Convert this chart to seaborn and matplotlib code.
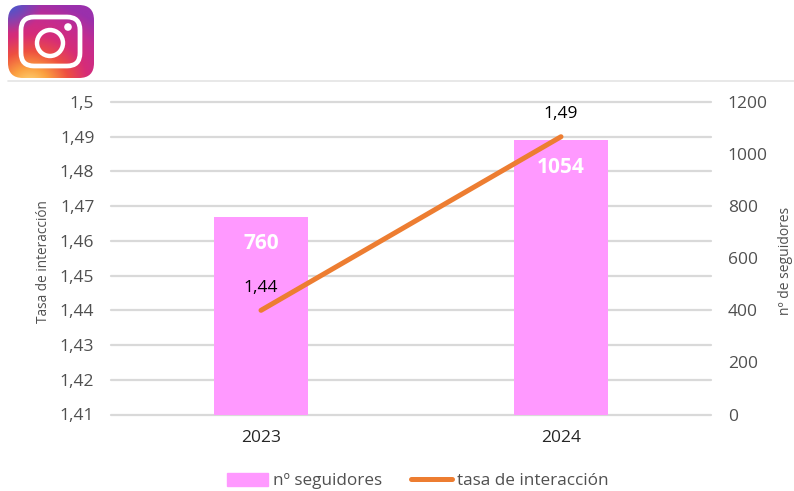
import numpy as np
import pandas as pd
import seaborn as sns
import matplotlib.pyplot as plt
from matplotlib.colors import LinearSegmentedColormap
from matplotlib.lines import Line2D
from matplotlib.patches import Circle, FancyBboxPatch, Patch

years = ['2023', '2024']
seguidores = [760, 1054]
tasa = [1.44, 1.49]
tasa_labels = ['1,44', '1,49']
left_ticks = [1.41, 1.42, 1.43, 1.44, 1.45, 1.46, 1.47, 1.48, 1.49, 1.5]
left_labels = ['1,41', '1,42', '1,43', '1,44', '1,45', '1,46', '1,47', '1,48', '1,49', '1,5']
right_ticks = [0, 200, 400, 600, 800, 1000, 1200]

df = pd.DataFrame({'year': years, 'seguidores': seguidores, 'tasa': tasa})

sns.set_style('white')
plt.rcParams['font.family'] = ['Open Sans', 'DejaVu Sans']

W, H = 794, 491
GREY = '#505050'
fig = plt.figure(figsize=(W / 100, H / 100), dpi=100)
ax = fig.add_axes([111 / W, 1 - 414.5 / H, 600 / W, 312.5 / H])
ax.set_facecolor('none')

# bars go on the right axis, gridlines stay behind them on the left one
ax2 = ax.twinx()
ax2.set_facecolor('none')
sns.barplot(data=df, x='year', y='seguidores', color='#FF99FF', saturation=1, width=0.313, ax=ax2, linewidth=0)
ax2.set_ylim(0, 1200)
ax2.set_yticks(right_ticks)
ax2.tick_params(axis='y', length=0, pad=12, labelsize=12.5, labelcolor=GREY)
ax2.set_ylabel('nº de seguidores', fontsize=10, color=GREY)
ax2.yaxis.set_label_coords(1.112, 0.49)
ax2.bar_label(ax2.containers[0], padding=-27, color='white', fontsize=15, fontweight='bold')

# separate axis so the line sits over the bars
ax3 = ax.twinx()
sns.lineplot(data=df, x='year', y='tasa', color='#ED7D31', linewidth=3.6, ax=ax3, solid_capstyle='round')
ax3.set_ylim(1.41, 1.5)
ax3.axis('off')
for i, lab in enumerate(tasa_labels):
    ax3.annotate(lab, (i, tasa[i]), xytext=(0, 10.5), textcoords='offset points',
                 ha='center', va='bottom', fontsize=12.5, color='black')

ax.set_xlim(-0.5, 1.5)
ax2.set_xlim(-0.5, 1.5)
ax3.set_xlim(-0.5, 1.5)
ax.set_ylim(1.41, 1.5)
ax.set_yticks(left_ticks)
ax.set_yticklabels(left_labels)
ax.grid(axis='y', color='#D9D9D9', linewidth=1.6, clip_on=False)
ax.grid(axis='x', visible=False)
ax.tick_params(axis='y', length=0, pad=12, labelsize=12.5, labelcolor=GREY)
ax.set_ylabel('Tasa de interacción', fontsize=9.8, color=GREY)
ax.yaxis.set_label_coords(-0.1, 0.49)
ax.set_xticks([0, 1])
ax.set_xticklabels(years)
ax2.set_xlabel('')
ax3.set_xlabel('')
ax2.tick_params(axis='x', length=0, labelbottom=False)
ax.tick_params(axis='x', length=0, pad=11, labelsize=12.5, labelcolor='#262626')
for a in (ax, ax2):
    for s in ('top', 'left', 'right', 'bottom'):
        a.spines[s].set_visible(False)

handles = [Patch(color='#FF99FF', label='nº seguidores'),
           Line2D([0], [0], color='#ED7D31', linewidth=3.6, label='tasa de interacción')]
fig.legend(handles=handles, loc='center', bbox_to_anchor=(418 / W, 1 - 481 / H), ncols=2,
           frameon=False, fontsize=12.3, labelcolor=GREY, handlelength=2.4,
           handletextpad=0.3, columnspacing=1.7, handleheight=0.8)

# rule under the logo
fig.add_artist(Line2D([8 / W, 1], [1 - 81 / H, 1 - 81 / H], color='#E4E4E4', linewidth=1.2))

# instagram logo
logo = fig.add_axes([8 / W, 1 - 78 / H, 86 / W, 73 / H])
logo.set_xlim(0, 86)
logo.set_ylim(73, 0)
logo.axis('off')
cmap = LinearSegmentedColormap.from_list('ig', ['#FFDD80', '#FBA040', '#EE5040', '#D62C78', '#C42C90', '#9A30AC'])
yy, xx = np.mgrid[0:1:120j, 0:1:120j]
dist = np.sqrt((xx - 0.25) ** 2 + (yy - 1.1) ** 2) / 1.15
rgb = cmap(np.clip(dist, 0, 1))[..., :3]
blue = np.array([0.25, 0.36, 0.82])
weight = np.clip(1 - np.sqrt(xx ** 2 + yy ** 2) / 0.4, 0, 1)[..., None]
rgb = rgb * (1 - weight) + blue * weight
im = logo.imshow(rgb, extent=(0, 86, 73, 0), aspect='auto')
clip = FancyBboxPatch((0, 0), 86, 73, boxstyle='round,pad=0,rounding_size=15',
                      transform=logo.transData, fc='none', ec='none')
logo.add_patch(clip)
im.set_clip_path(clip)
logo.add_patch(FancyBboxPatch((13, 12), 59, 49, boxstyle='round,pad=0,rounding_size=13',
                              fc='none', ec='white', lw=3.4))
logo.add_patch(Circle((42, 38), 13, fc='none', ec='white', lw=3.2))
logo.add_patch(Circle((60, 22), 3.8, fc='white', ec='none'))

plt.savefig('out.png', dpi=100)
